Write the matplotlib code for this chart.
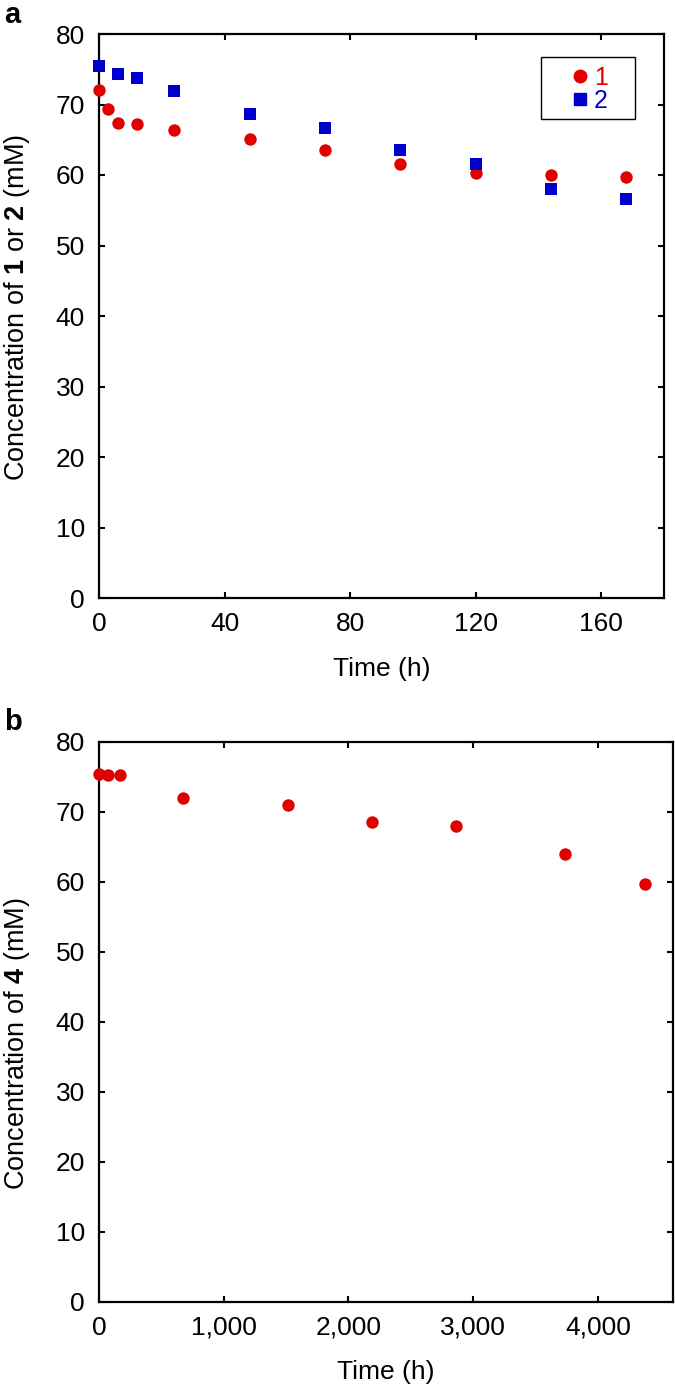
import matplotlib
matplotlib.use("Agg")
import matplotlib.pyplot as plt
from matplotlib.ticker import StrMethodFormatter
from matplotlib.lines import Line2D
from matplotlib.patches import Rectangle

plt.rcParams['font.family'] = ['Liberation Sans', 'DejaVu Sans']
plt.rcParams['mathtext.fontset'] = 'custom'
plt.rcParams['mathtext.rm'] = 'Liberation Sans'
plt.rcParams['mathtext.bf'] = 'Liberation Sans:bold'

# Panel a data
time_a = [0, 3, 6, 12, 24, 48, 72, 96, 120, 144, 168]
conc_1 = [72.1, 69.4, 67.4, 67.2, 66.4, 65.1, 63.5, 61.6, 60.3, 60.0, 59.7]
time_a2 = [0, 6, 12, 24, 48, 72, 96, 120, 144, 168]
conc_2 = [75.5, 74.3, 73.8, 71.9, 68.7, 66.6, 63.5, 61.5, 58.0, 56.6]

# Panel b data
time_b = [0, 72, 168, 672, 1512, 2190, 2860, 3740, 4380]
conc_4 = [75.4, 75.2, 75.3, 72.0, 71.0, 68.5, 68.0, 64.0, 59.7]

xticks_a = [0, 40, 80, 120, 160]
xticks_b = [0, 1000, 2000, 3000, 4000]
yticks = [0, 10, 20, 30, 40, 50, 60, 70, 80]
legend_labels = ['1', '2']

RED = '#e00000'
BLUE = '#0000cc'
FS = 19
YFS = 19.5

fig = plt.figure(figsize=(6.75, 13.91), dpi=100)
ax1 = fig.add_axes([99/675, 1-598/1391, 565/675, 564/1391])
ax2 = fig.add_axes([99/675, 1-1301.7/1391, 573.7/675, 560/1391])

def style(ax):
    for s in ax.spines.values():
        s.set_linewidth(1.6)
        s.set_color('black')
    ax.tick_params(direction='in', top=True, right=True, length=4, width=1.5,
                   labelsize=FS)
    ax.tick_params(axis='y', pad=10)
    ax.tick_params(axis='x', pad=10)
    ax.set_yticks(yticks)
    ax.set_ylim(0, 80)

ax1.scatter(time_a, conc_1, s=80, marker='o', color=RED, zorder=3, clip_on=False, linewidths=0)
ax1.scatter(time_a2, conc_2, s=75, marker='s', color=BLUE, zorder=3, clip_on=False, linewidths=0)
ax1.set_xlim(0, 180)
ax1.set_xticks(xticks_a)
style(ax1)
ax1.set_xlabel('Time (h)', fontsize=FS, labelpad=15)
ax1.set_ylabel(r'Concentration of $\mathbf{1}$ or $\mathbf{2}$ (mM)', fontsize=YFS)
ax1.yaxis.set_label_coords(-0.118, 0.516)

handles = [Line2D([], [], marker='o', color=RED, linestyle='none', markersize=9),
           Line2D([], [], marker='s', color=BLUE, linestyle='none', markersize=8)]
leg = ax1.legend(handles, legend_labels, loc='upper left',
                 bbox_to_anchor=((558.5-99)/565, (598-57)/564),
                 fontsize=18, frameon=False,
                 handletextpad=0.05, handlelength=1.0, borderpad=0.36, labelspacing=-0.04,
                 borderaxespad=0)
leg.get_texts()[0].set_color(RED)
leg.get_texts()[1].set_color(BLUE)
# legend frame box
ax1.add_patch(Rectangle(((541-99)/565, (598-119)/564), 94/565, 62/564,
                        transform=ax1.transAxes, fill=False, edgecolor='black',
                        linewidth=1.0, clip_on=False, zorder=4))

ax2.scatter(time_b, conc_4, s=80, marker='o', color=RED, zorder=3, clip_on=False, linewidths=0)
ax2.set_xlim(0, 4600)
ax2.set_xticks(xticks_b)
ax2.xaxis.set_major_formatter(StrMethodFormatter('{x:,.0f}'))
style(ax2)
ax2.set_xlabel('Time (h)', fontsize=FS, labelpad=15)
ax2.set_ylabel(r'Concentration of $\mathbf{4}$ (mM)', fontsize=YFS)
ax2.yaxis.set_label_coords(-0.116, 0.46)

fig.text(4/675, 1-15/1391, 'a', fontsize=21, fontweight='bold', va='center', ha='left')
fig.text(4/675, 1-722/1391, 'b', fontsize=21, fontweight='bold', va='center', ha='left')

fig.savefig('out.png', dpi=100)
